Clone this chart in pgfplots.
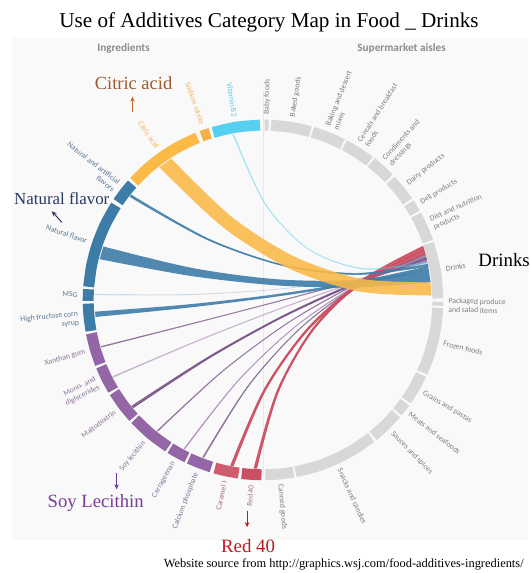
\documentclass[border=0pt]{standalone}
\usepackage{pgfplots}
\pgfplotsset{compat=1.18}
\usepgfplotslibrary{fillbetween}
\usetikzlibrary{arrows.meta,calc}
\usepackage{fontspec}
\setmainfont{Liberation Serif}
\newfontfamily\lab{Carlito}

\definecolor{orng}{HTML}{FBB946}
\definecolor{nitr}{HTML}{F8B04A}
\definecolor{cyanB}{HTML}{56D0F0}
\definecolor{blu}{HTML}{3E7CA8}
\definecolor{purp}{HTML}{9466A6}
\definecolor{redd}{HTML}{CB4E62}
\definecolor{segg}{HTML}{D8D8D8}
\definecolor{labg}{HTML}{7E7E7E}
\definecolor{bg}{HTML}{F9F9F9}
\definecolor{labblu}{HTML}{5A7894}
\definecolor{labpur}{HTML}{8A7396}
\definecolor{labred}{HTML}{B0707A}
\definecolor{laborg}{HTML}{F2B25E}
\definecolor{labcy}{HTML}{5FC8E8}

\newcommand\labfont{\lab\fontsize{7.8}{9}\selectfont}
% right side labels (aisles), left side labels (ingredients)
\newcommand{\rtlab}[2]{\node[font=\labfont, text=labg, rotate=#1, anchor=west, align=left, inner sep=0pt]
  at ($(axis cs:0,0)+(#1:186bp)$) {#2};}
\newcommand{\lflab}[3]{\node[font=\labfont, text=#2, rotate={#1-180}, anchor=east, align=right, inner sep=0pt]
  at ($(axis cs:0,0)+(#1:186bp)$) {#3};}

\begin{document}
\begin{tikzpicture}
\begin{axis}[
  width=531bp, height=573bp, scale only axis,
  xmin=-264, xmax=267, ymin=-272, ymax=301,
  hide axis, clip=false, set layers,
  ring/.style={smooth, line width=11bp, line cap=butt, data cs=polar, mark=none},
  edge/.style={smooth, mark=none, draw=none},
]
% frame
\addplot[draw=none] coordinates {(-264,-272) (267,301)};
\addplot[on layer=axis background, fill=bg, draw=none] coordinates {(-252,263) (266,263) (266,-241) (-252,-241)} -- cycle;
\addplot[on layer=axis background, draw=black!9, line width=0.8bp] coordinates {(0,209) (0,-178)};

% ---- chords to Drinks ----
% Xanthan gum
\addplot[name path=xa, edge] coordinates {(-162.21,-47.43) (-71.95,-24.30) (12.62,-2.35) (91.49,18.43) (164.67,38.02)};
\addplot[name path=xb, edge] coordinates {(-162.45,-46.58) (-72.10,-23.75) (12.49,-1.85) (91.33,19.12) (164.40,39.17)};
\addplot[fill=purp!60!gray, draw=purp!60!gray, line width=0.5bp, opacity=0.8] fill between[of=xa and xb];
% Mono- and diglycerides
\addplot[name path=ma, edge] coordinates {(-150.18,-77.51) (-65.20,-41.15) (15.56,-9.59) (92.09,17.19) (164.40,39.17)};
\addplot[name path=mb, edge] coordinates {(-150.58,-76.72) (-65.44,-40.64) (15.39,-9.10) (91.91,17.87) (164.12,40.31)};
\addplot[fill=purp!55, draw=purp!55, line width=0.5bp, opacity=0.8] fill between[of=ma and mb];
% Maltodextrin
\addplot[name path=mla, edge] coordinates {(-130.03,-107.95) (-53.88,-58.20) (20.52,-16.91) (93.19,15.92) (164.12,40.31)};
\addplot[name path=mlb, edge] coordinates {(-131.34,-106.36) (-54.66,-57.17) (20.05,-15.94) (92.78,17.31) (163.54,42.60)};
\addplot[fill=purp!80!black, draw=purp!80!black, line width=0.9bp, opacity=0.85] fill between[of=mla and mlb];
% Soy lecithin
\addplot[name path=sa, edge] coordinates {(-105.67,-131.89) (-40.22,-71.53) (26.47,-22.32) (94.39,15.72) (163.54,42.60)};
\addplot[name path=sb, edge] coordinates {(-106.36,-131.34) (-40.63,-71.15) (26.22,-21.90) (94.17,16.39) (163.24,43.74)};
\addplot[fill=purp!70!gray, draw=purp!70!gray, line width=0.5bp, opacity=0.8] fill between[of=sa and sb];
% Carrageenan
\addplot[name path=ca, edge] coordinates {(-78.56,-149.63) (-24.99,-81.44) (33.17,-26.47) (95.91,15.25) (163.24,43.74)};
\addplot[name path=cb, edge] coordinates {(-79.34,-149.22) (-25.45,-81.13) (32.90,-26.09) (95.69,15.92) (162.93,44.88)};
\addplot[fill=purp!75, draw=purp!75, line width=0.5bp, opacity=0.8] fill between[of=ca and cb];
% Calcium phosphate
\addplot[name path=cpa, edge] coordinates {(-59.46,-158.19) (-14.27,-86.17) (37.87,-28.33) (96.93,15.36) (162.93,44.88)};
\addplot[name path=cpb, edge] coordinates {(-60.56,-157.78) (-14.91,-85.87) (37.52,-27.94) (96.68,16.03) (162.62,46.02)};
\addplot[fill=purp!70!black!80, draw=purp!70!black!80, line width=0.5bp, opacity=0.8] fill between[of=cpa and cpb];
% Caramel I
\addplot[name path=cra, edge] coordinates {(-29.93,-166.33) (2.32,-90.68) (45.17,-30.08) (98.60,15.49) (162.62,46.02)};
\addplot[name path=crb, edge] coordinates {(-32.25,-165.90) (0.95,-90.20) (44.30,-28.98) (97.79,17.74) (161.44,49.97)};
\addplot[fill=redd, draw=redd, line width=1bp, opacity=0.9] fill between[of=cra and crb];
% Red 40
\addplot[name path=ra, edge] coordinates {(-6.49,-168.88) (15.44,-91.88) (50.74,-29.73) (99.40,17.55) (161.44,49.97)};
\addplot[name path=rb, edge] coordinates {(-8.85,-168.77) (14.04,-91.58) (49.86,-28.79) (98.60,19.61) (160.27,53.62)};
\addplot[fill=redd, draw=redd, line width=1bp, opacity=0.9] fill between[of=ra and rb];
% MSG (faint)
\addplot[name path=msa, edge] coordinates {(-168.93,5.01) (-75.70,5.05) (11.06,10.18) (91.35,20.40) (165.18,35.71)};
\addplot[name path=msb, edge] coordinates {(-168.90,5.90) (-75.70,5.61) (11.03,10.62) (91.25,20.95) (165.0,36.58)};
\addplot[fill=blu, draw=blu, line width=0.4bp, opacity=0.15] fill between[of=msa and msb];
% Vitamin B2
\addplot[name path=va, edge] coordinates {(-30.51,166.22) (2.15,95.79) (45.62,50.70) (99.90,30.97) (165.0,36.58)};
\addplot[name path=vb, edge] coordinates {(-29.35,166.43) (2.78,96.00) (45.83,51.11) (99.80,31.79) (164.67,38.02)};
\addplot[fill=cyanB, draw=cyanB, line width=0.3bp, opacity=0.4] fill between[of=va and vb];
% Natural and artificial flavors
\addplot[name path=na, edge] coordinates {(-133.54,103.58) (-55.77,60.37) (20.02,34.32) (93.81,25.42) (165.61,33.69)};
\addplot[name path=nb, edge] coordinates {(-132.26,105.20) (-55.08,61.41) (20.23,35.23) (93.64,26.67) (165.18,35.71)};
\addplot[fill=blu, draw=blu, line width=0.6bp, opacity=0.85] fill between[of=na and nb];
% High fructose corn syrup
\addplot[name path=ha, edge] coordinates {(-168.13,-17.08) (-75.17,-7.78) (11.58,3.07) (92.11,15.44) (166.43,29.35)};
\addplot[name path=hb, edge] coordinates {(-168.59,-11.79) (-75.48,-4.52) (11.26,5.48) (91.62,18.21) (165.61,33.69)};
\addplot[fill=blu, draw=none, fill opacity=0.9] fill between[of=ha and hb];
% Natural flavor
\addplot[name path=nfa, edge] coordinates {(-163.98,40.88) (-72.74,24.10) (13.02,14.64) (93.29,12.50) (168.07,17.67)};
\addplot[name path=nfb, edge] coordinates {(-160.27,53.62) (-70.75,32.00) (13.54,20.74) (92.60,19.87) (166.43,29.35)};
\addplot[fill=blu, draw=none, fill opacity=0.9] fill between[of=nfa and nfb];
% Citric acid
\addplot[name path=cia, edge] coordinates {(-104.05,133.17) (-40.5,73.2) (26.7,31.2) (97.0,8.4) (168.94,4.42)};
\addplot[name path=cib, edge] coordinates {(-92.04,141.74) (-30.8,82.8) (32.5,43.0) (98.3,21.2) (168.07,17.67)};
\addplot[fill=orng, draw=none, fill opacity=0.88] fill between[of=cia and cib];

% ---- ring: supermarket aisles ----
\addplot[ring, segg] coordinates {(89.5,175.5) (88.2,175.5)};
\addplot[ring, segg] coordinates {(87.4,175.5) (80.85,175.5) (74.3,175.5)};
\addplot[ring, segg] coordinates {(73.6,175.5) (68.3,175.5) (63,175.5)};
\addplot[ring, segg] coordinates {(62.3,175.5) (57.4,175.5) (52.5,175.5)};
\addplot[ring, segg] coordinates {(51.8,175.5) (47.9,175.5) (44,175.5)};
\addplot[ring, segg] coordinates {(43.2,175.5) (38.75,175.5) (34.3,175.5)};
\addplot[ring, segg] coordinates {(33.5,175.5) (31.6,175.5) (29.7,175.5)};
\addplot[ring, segg] coordinates {(29,175.5) (24.25,175.5) (19.5,175.5)};
\addplot[ring, segg] coordinates {(18.8,175.5) (9.65,175.5) (0.5,175.5)};
\addplot[ring, segg] coordinates {(-0.6,175.5) (-1.9,175.5)};
\addplot[ring, segg] coordinates {(-2.6,175.5) (-8,175.5) (-13.55,175.5) (-19,175.5) (-24.5,175.5)};
\addplot[ring, segg] coordinates {(-25.3,175.5) (-30.15,175.5) (-35,175.5)};
\addplot[ring, segg] coordinates {(-35.8,175.5) (-37.8,175.5) (-39.8,175.5)};
\addplot[ring, segg] coordinates {(-40.6,175.5) (-45.8,175.5) (-51,175.5)};
\addplot[ring, segg] coordinates {(-51.8,175.5) (-58.7,175.5) (-65.55,175.5) (-72.4,175.5) (-79.3,175.5)};
\addplot[ring, segg] coordinates {(-80,175.5) (-84.65,175.5) (-89.3,175.5)};
% ---- ring: ingredients ----
\addplot[ring, redd] coordinates {(263,175.5) (266.25,175.5) (269.5,175.5)};
\addplot[ring, redd!92!white] coordinates {(254,175.5) (258,175.5) (262,175.5)};
\addplot[ring, purp] coordinates {(245,175.5) (248.9,175.5) (252.8,175.5)};
\addplot[ring, purp] coordinates {(238,175.5) (241.1,175.5) (244.2,175.5)};
\addplot[ring, purp] coordinates {(223,175.5) (230.1,175.5) (237.2,175.5)};
\addplot[ring, purp] coordinates {(211.8,175.5) (217,175.5) (222.2,175.5)};
\addplot[ring, purp] coordinates {(202.3,175.5) (206.65,175.5) (211,175.5)};
\addplot[ring, purp] coordinates {(191,175.5) (196.25,175.5) (201.5,175.5)};
\addplot[ring, blu] coordinates {(181.2,175.5) (185.7,175.5) (190.2,175.5)};
\addplot[ring, blu] coordinates {(176.5,175.5) (178.4,175.5) (180.3,175.5)};
\addplot[ring, blu] coordinates {(147.3,175.5) (154.4,175.5) (161.5,175.5) (168.6,175.5) (175.7,175.5)};
\addplot[ring, blu] coordinates {(138.5,175.5) (142.25,175.5) (146,175.5)};
\addplot[ring, orng] coordinates {(112,175.5) (118.4,175.5) (124.75,175.5) (131.1,175.5) (137.5,175.5)};
\addplot[ring, nitr] coordinates {(107.6,175.5) (109.1,175.5) (110.6,175.5)};
\addplot[ring, cyanB] coordinates {(91,175.5) (98.8,175.5) (106.6,175.5)};

% ---- segment labels ----
\rtlab{88.85}{Baby foods}
\rtlab{80.85}{Baked goods}
\rtlab{68.3}{Baking and dessert\\mixes}
\rtlab{57.4}{Cereals and breakfast\\foods}
\rtlab{47.9}{Condiments and\\dressings}
\rtlab{38.75}{Dairy products}
\rtlab{31.6}{Deli products}
\rtlab{24.25}{Diet and nutrition\\products}
\rtlab{9.65}{Drinks}
\rtlab{-1.6}{Packaged produce\\and salad items}
\rtlab{-13.5}{Frozen foods}
\rtlab{-30.15}{Grains and pastas}
\rtlab{-37.8}{Meats and seafoods}
\rtlab{-45.8}{Sauces and spices}
\rtlab{-65.55}{Snacks and candies}
\rtlab{-84.65}{Canned goods}
\lflab{98.8}{labcy}{Vitamin B2}
\lflab{109.1}{laborg}{Sodium nitrite}
\lflab{124.75}{laborg}{Citric acid}
\lflab{142.25}{labblu}{Natural and artificial\\flavors}
\lflab{161.5}{labblu}{Natural flavor}
\lflab{178.4}{labblu}{MSG}
\lflab{185.7}{labblu}{High fructose corn\\syrup}
\lflab{196.25}{labpur}{Xanthan gum}
\lflab{206.65}{labpur}{Mono- and\\diglycerides}
\lflab{217}{labpur}{Maltodextrin}
\lflab{230.1}{labpur}{Soy lecithin}
\lflab{241.1}{labpur}{Carrageenan}
\lflab{248.9}{labpur}{Calcium phosphate}
\lflab{258}{labred}{Caramel I}
\lflab{266.25}{labred}{Red 40}

% ---- headers, titles, callouts ----
\node[font=\lab\bfseries\fontsize{11.3}{12}\selectfont, text=black!45] at (axis cs:-140,252) {Ingredients};
\node[font=\lab\bfseries\fontsize{11.3}{12}\selectfont, text=black!45] at (axis cs:139,252) {Supermarket aisles};
\node[font=\fontsize{21.3}{24}\selectfont] at (axis cs:6,279) {Use of Additives Category Map in Food \_ Drinks};
\node[font=\fontsize{18.6}{20}\selectfont, text={rgb,255:red,160;green,90;blue,45}] at (axis cs:-130,218) {Citric acid};
\node[font=\fontsize{17}{19}\selectfont, text={rgb,255:red,40;green,55;blue,100}] at (axis cs:-202,102) {Natural flavor};
\node[font=\fontsize{19}{21}\selectfont, anchor=west, inner sep=0pt] at (axis cs:216,40) {Drinks};
\node[font=\fontsize{18.8}{20}\selectfont, text={rgb,255:red,120;green,60;blue,150}] at (axis cs:-168,-204) {Soy Lecithin};
\node[font=\fontsize{19}{21}\selectfont, text={rgb,255:red,190;green,25;blue,35}] at (axis cs:-15,-247) {Red 40};
\node[font=\fontsize{12.5}{13}\selectfont] at (axis cs:81,-265) {Website source from http://graphics.wsj.com/food-additives-ingredients/};

\addplot[-{Stealth[length=5bp,width=4.5bp]}, line width=1bp, color={rgb,255:red,200;green,105;blue,46}] coordinates {(-131,189) (-131,204)};
\addplot[-{Stealth[length=5bp,width=4.5bp]}, line width=1bp, color={rgb,255:red,43;green,58;blue,103}] coordinates {(-202,78) (-212,89)};
\addplot[-{Stealth[length=5bp,width=4.5bp]}, line width=1bp, color={rgb,255:red,106;green,58;blue,154}] coordinates {(-147,-174) (-147,-190)};
\addplot[-{Stealth[length=5bp,width=4.5bp]}, line width=1bp, color={rgb,255:red,192;green,22;blue,30}] coordinates {(-16,-212) (-16,-228)};
\end{axis}
\end{tikzpicture}
\end{document}
